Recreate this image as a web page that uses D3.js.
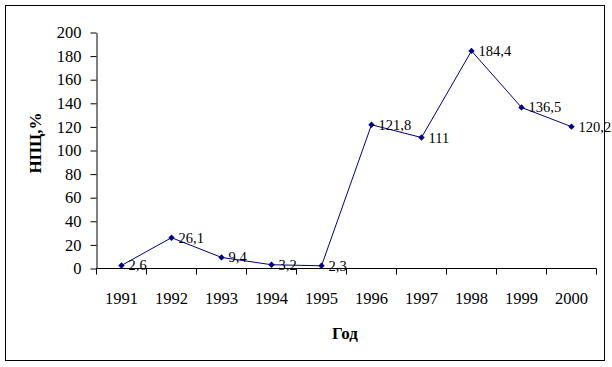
<!DOCTYPE html>
<html><head><meta charset="utf-8">
<script src="https://cdn.jsdelivr.net/npm/d3@7"></script>
<style>body{margin:0;background:#fff}svg{display:block}</style>
</head><body>
<svg id="c" width="612" height="367"></svg>
<script>
const years = ["1991","1992","1993","1994","1995","1996","1997","1998","1999","2000"];
const values = [2.6, 26.1, 9.4, 3.2, 2.3, 121.8, 111, 184.4, 136.5, 120.2];
const labels = ["2,6","26,1","9,4","3,2","2,3","121,8","111","184,4","136,5","120,2"];
const yTicks = [0,20,40,60,80,100,120,140,160,180,200];
const yTitle = "НПЦ,%";
const xTitle = "Год";

const svg = d3.select("#c");
const font = "Liberation Serif";
const navy = "#000080";

svg.append("rect").attr("x",5.5).attr("y",5.5).attr("width",599).attr("height",355)
  .attr("fill","#fff").attr("stroke","#000").attr("stroke-width",1);

const x = d3.scaleBand().domain(years).range([96.5,596.5]);
const y = d3.scaleLinear().domain([0,200]).range([268.5,32.5]);

// y axis
const ya = svg.append("g").attr("transform","translate(96.5,0)")
  .call(d3.axisLeft(y).tickValues(yTicks).tickSize(6).tickPadding(9).tickSizeOuter(0));
ya.select(".domain").attr("stroke","#000");
ya.selectAll(".tick line").attr("stroke","#000");
ya.selectAll("text").attr("font-family",font).attr("font-size",16.5).attr("fill","#000");

// x axis with boundary ticks
const xa = svg.append("g").attr("transform",`translate(0,${y(0)})`);
xa.append("line").attr("x1",x.range()[0]).attr("x2",x.range()[1]).attr("stroke","#000");
const bounds = years.map(d=>x(d)).concat([x.range()[1]]);
xa.selectAll("line.tk").data(bounds).enter().append("line").attr("class","tk")
  .attr("x1",d=>d).attr("x2",d=>d).attr("y1",0).attr("y2",6).attr("stroke","#000");
xa.selectAll("text").data(years).enter().append("text")
  .attr("x",d=>x(d)+x.bandwidth()/2).attr("y",35).attr("text-anchor","middle")
  .attr("font-family",font).attr("font-size",16.5).text(d=>d);

// line
const pts = years.map((d,i)=>({yr:d,v:values[i],l:labels[i]}));
const line = d3.line().x(d=>x(d.yr)+x.bandwidth()/2).y(d=>y(d.v));
svg.append("path").datum(pts).attr("d",line).attr("fill","none").attr("stroke",navy).attr("stroke-width",1);

svg.selectAll("path.m").data(pts).enter().append("path").attr("class","m")
  .attr("d",d3.symbol().type(d3.symbolDiamond2).size(26))
  .attr("transform",d=>`translate(${x(d.yr)+x.bandwidth()/2},${y(d.v)})`)
  .attr("fill",navy);

svg.selectAll("text.lbl").data(pts).enter().append("text").attr("class","lbl")
  .attr("x",d=>x(d.yr)+x.bandwidth()/2+7).attr("y",d=>y(d.v)+5)
  .attr("font-family",font).attr("font-size",14.5).attr("fill","#000").text(d=>d.l);

// titles
svg.append("text").attr("transform","translate(41,143) rotate(-90)")
  .attr("text-anchor","middle").attr("font-family",font).attr("font-weight","bold")
  .attr("font-size",17).text(yTitle);
svg.append("text").attr("x",345).attr("y",339).attr("text-anchor","middle")
  .attr("font-family",font).attr("font-weight","bold").attr("font-size",17).text(xTitle);
</script>
</body></html>
